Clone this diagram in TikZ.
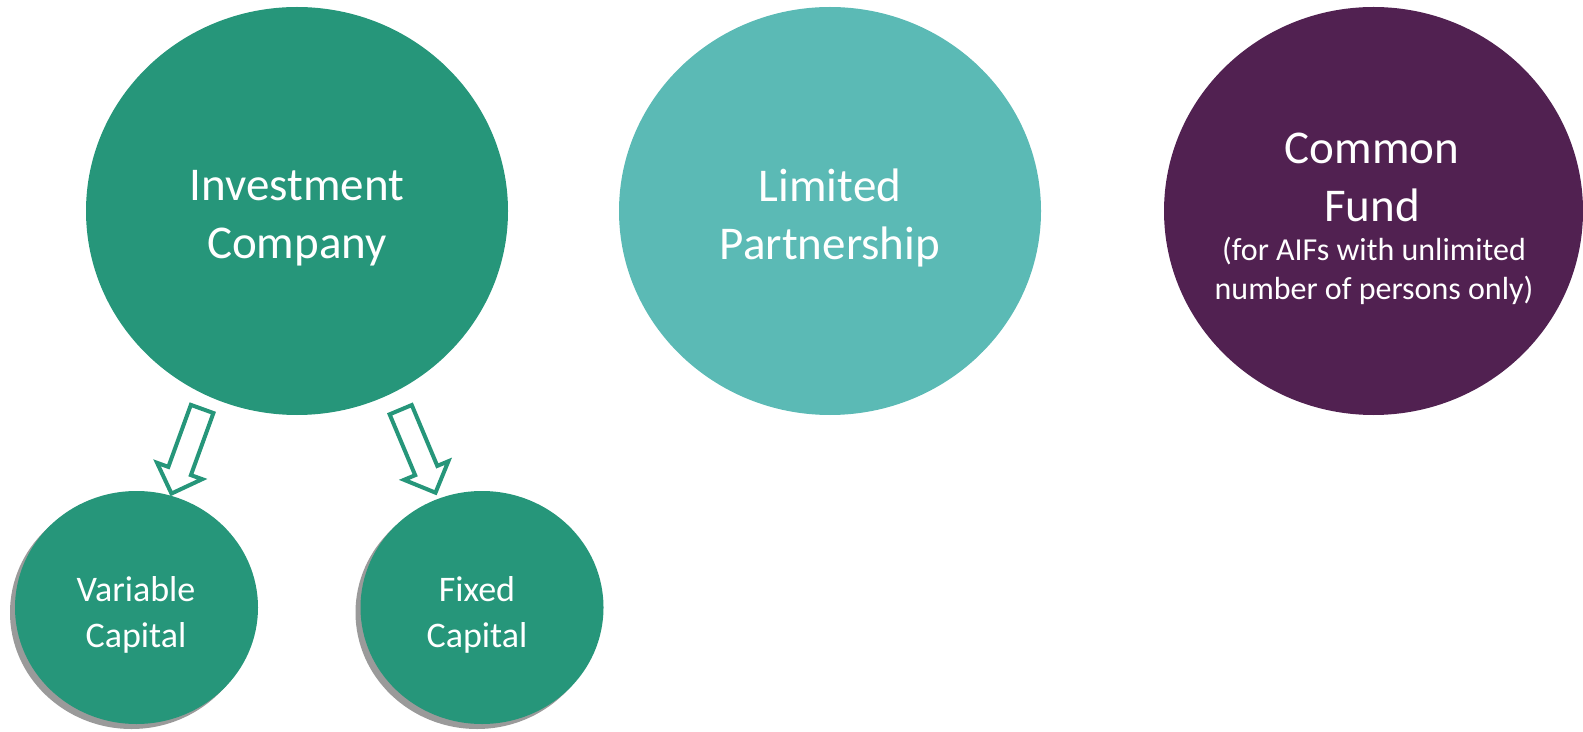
\documentclass[tikz,border=0pt]{standalone}
\usepackage{fontspec}
\setmainfont{Carlito}
\usepackage{tikz}
\usetikzlibrary{shapes.geometric,shapes.arrows,shadows}

\definecolor{fundgreen}{HTML}{26967A}
\definecolor{fundteal}{HTML}{5BBAB5}
\definecolor{fundplum}{HTML}{512151}
\definecolor{shadegray}{HTML}{9A9A9A}

\begin{document}
\begin{tikzpicture}[x=0.5pt,y=-0.5pt,
    blob/.style={ellipse,inner sep=0pt,outer sep=0pt},
    big/.style={blob,minimum width=211pt,minimum height=204pt},
    small/.style={blob,fill=fundgreen,minimum width=121.5pt,minimum height=116.5pt,
      drop shadow={shadow xshift=-2.5pt,shadow yshift=-2.5pt,fill=shadegray,opacity=1}},
    bigtxt/.style={text=white,align=center,font=\fontsize{23.5}{29}\selectfont},
    subtxt/.style={text=white,align=center,font=\fontsize{16}{19.7}\selectfont},
    smalltxt/.style={text=white,align=center,font=\fontsize{18}{23}\selectfont},
    flowarrow/.style={single arrow,draw=fundgreen,fill=white,line width=2pt,
      inner xsep=0pt,inner ysep=5pt,minimum height=45pt,
      single arrow head extend=6pt,single arrow tip angle=90}]
    \useasboundingbox (0,0) rectangle (1583,732);

    \node[big,fill=fundgreen] (inv) at (297,211) {};
    \node[big,fill=fundteal] (lp) at (830,211) {};
    \node[big,fill=fundplum,minimum width=209.5pt] (cf) at (1373.5,211) {};
    \node[small] (var) at (136.5,607.5) {};
    \node[small] (fix) at (482,607.5) {};

    \node[bigtxt] (inv-t) at (297,218) {Investment\\Company};
    \node[bigtxt] (lp-t) at (830,218) {Limited\\Partnership};
    \node[bigtxt] (cf-t) at (1372,177) {Common\\Fund};
    \node[subtxt] (cf-s) at (1374,271) {(for AIFs with unlimited\\number of persons only)};
    \node[smalltxt] (var-t) at (136,615) {Variable\\Capital};
    \node[smalltxt] (fix-t) at (477,615) {Fixed\\Capital};

    % hollow arrows down to the two kinds
    \path (inv.-116) -- (var.73) node[flowarrow,midway,sloped,allow upside down] (a-var) {};
    \path (inv.-62) -- (fix.112) node[flowarrow,midway,sloped,allow upside down] (a-fix) {};
\end{tikzpicture}
\end{document}
